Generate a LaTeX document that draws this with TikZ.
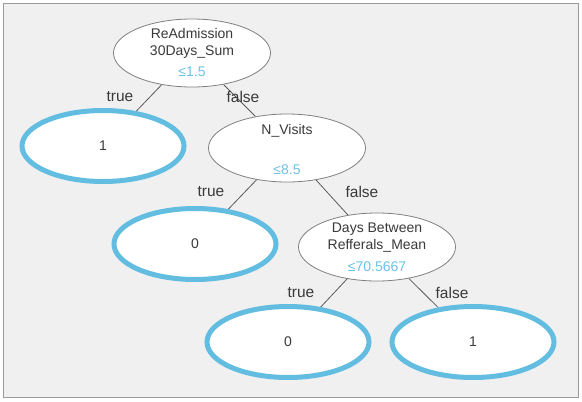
\documentclass[tikz,border=0pt]{standalone}
\usepackage{fontspec}
\setmainfont{Liberation Sans}
\usetikzlibrary{shapes.geometric,backgrounds}
\definecolor{bgc}{HTML}{F0F0F0}
\definecolor{framec}{HTML}{9A9A9A}
\definecolor{txtc}{HTML}{3A3A3A}
\definecolor{leafc}{HTML}{62BDE0}
\definecolor{thrc}{HTML}{6CC3E8}
\definecolor{edgec}{HTML}{5A5A5A}
\definecolor{innerc}{HTML}{808080}
\tikzset{
  x=1pt, y=-1pt,
  innernode/.style={ellipse, draw=innerc, line width=0.8pt, fill=white, inner sep=0pt, minimum width=157pt, minimum height=68pt},
  leafnode/.style={ellipse, draw=leafc, line width=5pt, fill=white, inner sep=0pt, minimum width=162pt, minimum height=71pt},
  txt/.style={text=txtc, font=\fontsize{14}{17}\selectfont, align=center, inner sep=0pt},
  thr/.style={text=thrc, font=\fontsize{14}{17}\selectfont, inner sep=0pt},
  lbl/.style={text=txtc, font=\fontsize{15.5}{17}\selectfont, inner sep=0pt},
  edge/.style={draw=edgec, line width=0.8pt}
}
\begin{document}
\begin{tikzpicture}
\useasboundingbox (0,0) rectangle (582,402);
% nodes
\node[innernode] (root) at (192,53) {};
\node[txt] (roott) at (192,43) {ReAdmission\\30Days\_Sum};
\node[thr] (rootthr) at (192,72) {≤1.5};

\node[leafnode] (leafA) at (103,146) {};
\node[txt] (leafAt) at (leafA) {1};

\node[innernode] (nv) at (287,148) {};
\node[txt] (nvt) at (287,131) {N\_Visits};
\node[thr] (nvthr) at (287,170) {≤8.5};

\node[leafnode] (leafB) at (195,244) {};
\node[txt] (leafBt) at (leafB) {0};

\node[innernode] (db) at (377,247) {};
\node[txt] (dbt) at (377,238) {Days Between\\Refferals\_Mean};
\node[thr] (dbthr) at (377,267) {≤70.5667};

\node[leafnode] (leafC) at (288,342) {};
\node[txt] (leafCt) at (leafC) {0};

\node[leafnode] (leafD) at (473,342) {};
\node[txt] (leafDt) at (leafD) {1};

% labels
\node[lbl] (l1) at (120,97) {true};
\node[lbl] (l2) at (243,97) {false};
\node[lbl] (l3) at (211,192) {true};
\node[lbl] (l4) at (362,192) {false};
\node[lbl] (l5) at (301,293) {true};
\node[lbl] (l6) at (452,293) {false};

\begin{scope}[on background layer]
  \fill[white] (0,0) rectangle (582,402);
  \draw[framec, fill=bgc, line width=0.9pt] (3,3) rectangle (578,397);
  \draw[edge] (root) -- (leafA);
  \draw[edge] (root) -- (nv);
  \draw[edge] (nv) -- (leafB);
  \draw[edge] (nv) -- (db);
  \draw[edge] (db) -- (leafC);
  \draw[edge] (db) -- (leafD);
\end{scope}
\end{tikzpicture}
\end{document}
